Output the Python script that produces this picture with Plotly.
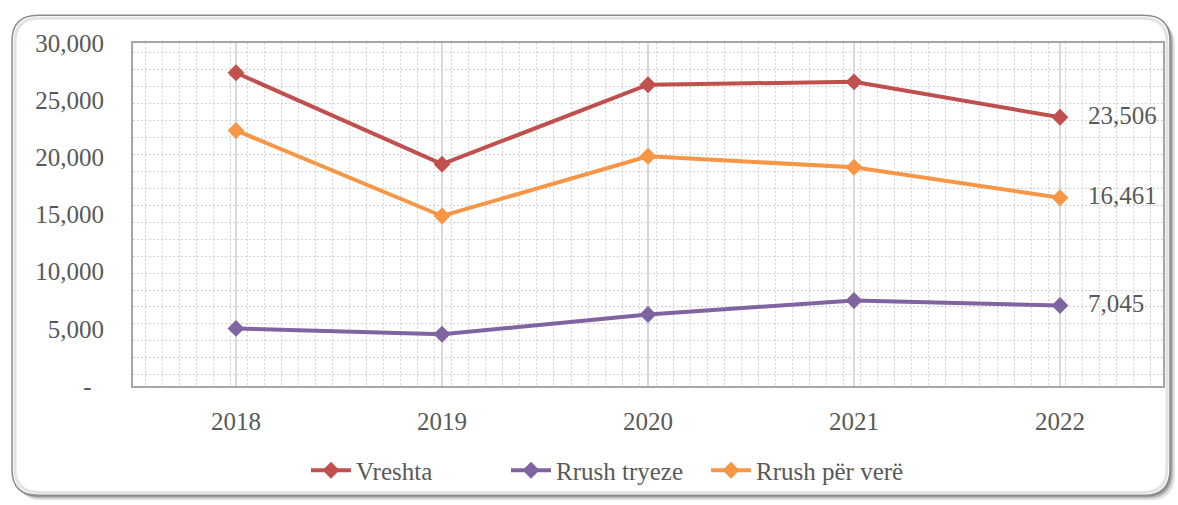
import plotly.graph_objects as go

# data
years = ["2018", "2019", "2020", "2021", "2022"]
vreshta = [27400, 19400, 26350, 26600, 23506]
rrush_tryeze = [5040, 4520, 6260, 7480, 7045]
rrush_per_vere = [22350, 14870, 20090, 19130, 16461]

y_ticks = [0, 5000, 10000, 15000, 20000, 25000, 30000]
y_ticktext = ["-\u00a0\u00a0", "5,000", "10,000", "15,000", "20,000", "25,000", "30,000"]

W, H = 1178, 505
L, R, T, B = 133, 1163, 43, 388
FONT = "Liberation Serif"
GREY = "#595959"


def px(x, y):
    # pixel -> paper coordinates
    return (x - L) / (R - L), (B - y) / (B - T)


def rounded_rect(x0, y0, x1, y1, r):
    pts = []
    pts.append("M %f,%f" % px(x0 + r, y0))
    pts.append("L %f,%f" % px(x1 - r, y0))
    pts.append("Q %f,%f %f,%f" % (*px(x1, y0), *px(x1, y0 + r)))
    pts.append("L %f,%f" % px(x1, y1 - r))
    pts.append("Q %f,%f %f,%f" % (*px(x1, y1), *px(x1 - r, y1)))
    pts.append("L %f,%f" % px(x0 + r, y1))
    pts.append("Q %f,%f %f,%f" % (*px(x0, y1), *px(x0, y1 - r)))
    pts.append("L %f,%f" % px(x0, y0 + r))
    pts.append("Q %f,%f %f,%f" % (*px(x0, y0), *px(x0 + r, y0)))
    return " ".join(pts) + " Z"


x_idx = list(range(len(years)))
series = [
    ("Vreshta", vreshta, "#C0504D"),
    ("Rrush tryeze", rrush_tryeze, "#8064A2"),
    ("Rrush për verë", rrush_per_vere, "#F79646"),
]

fig = go.Figure()
for name, vals, col in series:
    labels = [""] * (len(vals) - 1) + ["\u00a0\u00a0\u00a0" + "{:,}".format(vals[-1])]
    fig.add_trace(
        go.Scatter(x=x_idx, y=vals, name=name, mode="lines+markers+text",
                   line=dict(color=col, width=4),
                   marker=dict(symbol="diamond", size=13, color=col),
                   text=labels, textposition="middle right",
                   textfont=dict(family=FONT, size=25, color=GREY),
                   cliponaxis=False)
    )

shapes = []
# chart frame with shadow
for off, op in [(5, 0.18), (3, 0.3), (1.5, 0.45)]:
    shapes.append(dict(type="path", xref="paper", yref="paper", layer="below",
                       path=rounded_rect(12 + off, 15 + off, 1170 + off, 498 + off, 26),
                       fillcolor="rgba(90,90,90,%s)" % op, line=dict(width=0)))
shapes.append(dict(type="path", xref="paper", yref="paper", layer="below",
                   path=rounded_rect(12, 15, 1170, 498, 26),
                   fillcolor="white", line=dict(color="#8C8C8C", width=1.5)))
shapes.append(dict(type="path", xref="paper", yref="paper", layer="below",
                   path=rounded_rect(15, 18, 1167, 495, 24),
                   fillcolor="rgba(0,0,0,0)", line=dict(color="#E3E3E3", width=3)))

fig.update_layout(
    width=W, height=H,
    margin=dict(l=L, r=W - R, t=T, b=H - B),
    paper_bgcolor="white",
    plot_bgcolor="rgba(0,0,0,0)",
    font=dict(family=FONT, size=25, color=GREY),
    showlegend=True,
    legend=dict(orientation="h", x=px(606, 0)[0], xanchor="center",
                y=px(0, 473)[1], yanchor="middle",
                font=dict(family=FONT, size=25, color=GREY),
                entrywidth=145, entrywidthmode="pixels",
                itemwidth=40, tracegroupgap=0, bgcolor="rgba(0,0,0,0)"),
    shapes=shapes,
)

fig.update_xaxes(
    range=[-0.5, 4.5], tickmode="array", tickvals=x_idx, ticktext=years,
    showgrid=True, gridcolor="#D9D9D9", gridwidth=1.5,
    showline=True, linecolor="#A6A6A6", linewidth=2, mirror=True,
    ticks="", ticklabelstandoff=12, zeroline=False,
    minor=dict(tick0=-0.5 + 12 / 206, dtick=17.04 / 206, showgrid=True,
               gridcolor="#D2D2D2", griddash="2px,2px", gridwidth=1, ticks=""),
)
fig.update_yaxes(
    range=[0, 30000], tickmode="array", tickvals=y_ticks, ticktext=y_ticktext,
    showgrid=False, zeroline=False,
    showline=True, linecolor="#A6A6A6", linewidth=2, mirror=True,
    ticks="", ticklabelstandoff=22,
    minor=dict(tick0=983, dtick=1482, showgrid=True,
               gridcolor="#D2D2D2", griddash="2px,2px", gridwidth=1, ticks=""),
)

fig.write_html("out.html", config={"displayModeBar": False},
               post_script="document.body.style.margin='0';")
